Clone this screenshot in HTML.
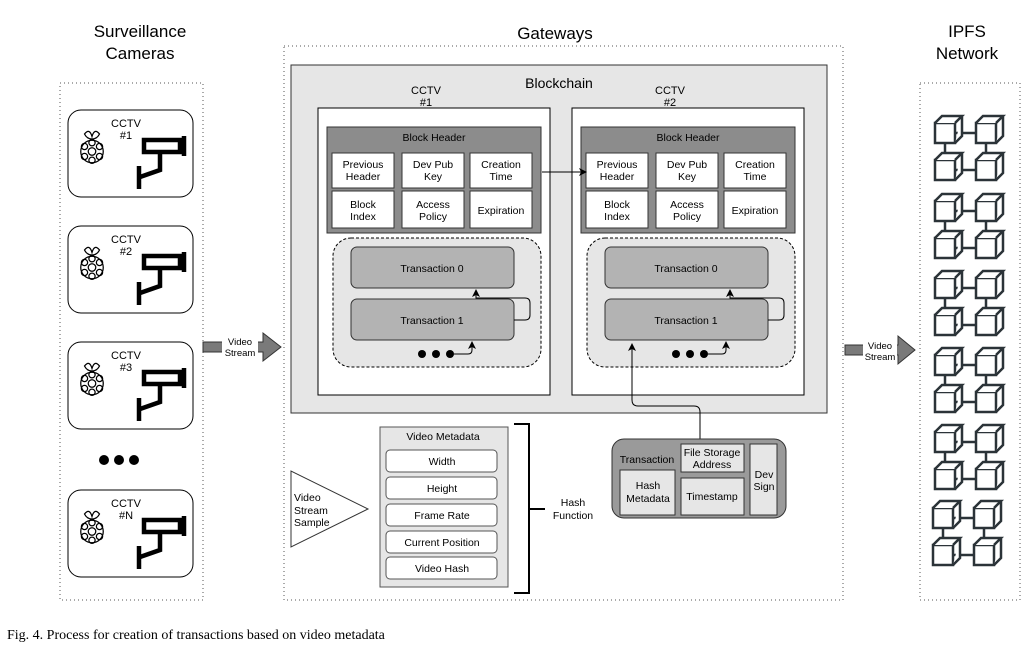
<!DOCTYPE html>
<html><head><meta charset="utf-8"><style>
html,body{margin:0;padding:0;background:#fff;}
svg{display:block;font-family:"Liberation Sans",Arial,sans-serif;}
</style></head><body>
<svg width="1035" height="665" viewBox="0 0 1035 665" xmlns="http://www.w3.org/2000/svg">
<defs>
<marker id="ah" markerWidth="8" markerHeight="8" refX="7" refY="4" orient="auto" markerUnits="userSpaceOnUse"><path d="M0,0 L8,4 L0,8 L2,4 z" fill="#000"/></marker>
<g id="cam">
 <rect x="0" y="0" width="125" height="87" rx="13" fill="#fff" stroke="#000" stroke-width="1"/>
 <text x="58" y="17" font-size="11" text-anchor="middle">CCTV</text>
 <g transform="translate(9,19) scale(1.25)" fill="none" stroke="#000" stroke-width="1">
  <path d="M6,4 Q10,-1 12,6 Q14,-1 18,4 Q16,8 12,8 Q8,8 6,4z"/>
  <circle cx="12" cy="18" r="9"/>
  <circle cx="12" cy="18" r="3"/><circle cx="6" cy="14" r="2.5"/><circle cx="18" cy="14" r="2.5"/><circle cx="6" cy="22" r="2.5"/><circle cx="18" cy="22" r="2.5"/><circle cx="12" cy="25" r="2.5"/><circle cx="12" cy="11" r="2.5"/>
 </g>
 <g fill="none" stroke="#000" stroke-width="4.5">
  <rect x="76" y="30" width="36" height="12"/>
  <path d="M116,26 L116,46"/>
  <path d="M92,42 L92,60 L72,67"/>
  <path d="M71,56 L71,79"/>
 </g>
</g>
<g id="cube" fill="#fff" stroke="#2b3338" stroke-width="2.5" stroke-linejoin="miter">
 <rect x="0" y="7" width="20" height="20"/>
 <path d="M0,7 L7,0 L27,0 L20,7 M27,0 L27,20 L20,27"/>
</g>
<g id="grp">
 <line x1="20" y1="17" x2="41" y2="17" stroke="#2b3338" stroke-width="2.5"/>
 <line x1="20" y1="54" x2="41" y2="54" stroke="#2b3338" stroke-width="2.5"/>
 <line x1="10" y1="27" x2="10" y2="44" stroke="#2b3338" stroke-width="2.5"/>
 <line x1="51" y1="27" x2="51" y2="44" stroke="#2b3338" stroke-width="2.5"/>
 <use href="#cube" x="0" y="0"/><use href="#cube" x="41" y="0"/>
 <use href="#cube" x="0" y="37"/><use href="#cube" x="41" y="37"/>
</g>
<g id="block">
 <rect x="0" y="0" width="232" height="287" fill="#fff" stroke="#000"/>
 <rect x="9" y="19" width="214" height="106" fill="#8c8c8c" stroke="#333"/>
 <text x="116" y="33" font-size="10.5" text-anchor="middle">Block Header</text>
 <g fill="#fff" stroke="#333">
  <rect x="14" y="45" width="62" height="35"/><rect x="84" y="45" width="62" height="35"/><rect x="152" y="45" width="62" height="35"/>
  <rect x="14" y="83" width="62" height="37"/><rect x="84" y="83" width="62" height="37"/><rect x="152" y="83" width="62" height="37"/>
 </g>
 <g font-size="10.5" text-anchor="middle">
  <text x="45" y="60">Previous</text><text x="45" y="72">Header</text>
  <text x="115" y="60">Dev Pub</text><text x="115" y="72">Key</text>
  <text x="183" y="60">Creation</text><text x="183" y="72">Time</text>
  <text x="45" y="100">Block</text><text x="45" y="112">Index</text>
  <text x="115" y="100">Access</text><text x="115" y="112">Policy</text>
  <text x="183" y="106">Expiration</text>
 </g>
 <rect x="15" y="130" width="208" height="129" rx="18" fill="#e6e6e6" stroke="#000" stroke-dasharray="3,2"/>
 <rect x="33" y="139" width="163" height="41" rx="6" fill="#b3b3b3" stroke="#333"/>
 <rect x="33" y="191" width="163" height="41" rx="6" fill="#b3b3b3" stroke="#333"/>
 <text x="114" y="164" font-size="10.5" text-anchor="middle">Transaction 0</text>
 <text x="114" y="216" font-size="10.5" text-anchor="middle">Transaction 1</text>
 <path d="M196,212 L207,212 Q212,212 212,207 L212,195 Q212,190 207,190 L158,190 L158,182" fill="none" stroke="#000" marker-end="url(#ah)"/>
 <circle cx="104" cy="246" r="4"/><circle cx="118" cy="246" r="4"/><circle cx="132" cy="246" r="4"/>
 <path d="M136,246 L150,246 Q154,246 154,242 L154,234" fill="none" stroke="#000" marker-end="url(#ah)"/>
</g>
</defs>

<g font-size="17" text-anchor="middle">
 <text x="140" y="37">Surveillance</text><text x="140" y="59">Cameras</text>
 <text x="555" y="39">Gateways</text>
 <text x="967" y="37">IPFS</text><text x="967" y="59">Network</text>
</g>

<rect x="60" y="83" width="143" height="517" fill="none" stroke="#555" stroke-dasharray="1,3"/>
<rect x="284" y="46" width="559" height="554" fill="none" stroke="#555" stroke-dasharray="1,3"/>
<rect x="920" y="83" width="100" height="517" fill="none" stroke="#555" stroke-dasharray="1,3"/>

<use href="#cam" x="68" y="110"/>
<use href="#cam" x="68" y="226"/>
<use href="#cam" x="68" y="342"/>
<use href="#cam" x="68" y="490"/>
<g font-size="11" text-anchor="middle">
 <text x="126" y="139">#1</text><text x="126" y="255">#2</text><text x="126" y="371">#3</text><text x="126" y="519">#N</text>
</g>
<circle cx="104" cy="460" r="5"/><circle cx="119" cy="460" r="5"/><circle cx="134" cy="460" r="5"/>

<!-- video stream arrows -->
<path d="M203,342 L263,342 L263,333 L281,347 L263,361 L263,352 L203,352z" fill="#7a7a7a" stroke="#333"/>
<rect x="222" y="336" width="36" height="22" fill="#fff"/>
<text x="240" y="345" font-size="9.5" text-anchor="middle">Video</text><text x="240" y="356" font-size="9.5" text-anchor="middle">Stream</text>
<path d="M845,345 L898,345 L898,336 L915,350 L898,364 L898,355 L845,355z" fill="#7a7a7a" stroke="#333"/>
<rect x="863" y="339" width="34" height="22" fill="#fff"/>
<text x="880" y="349" font-size="9.5" text-anchor="middle">Video</text><text x="880" y="360" font-size="9.5" text-anchor="middle">Stream</text>

<!-- blockchain -->
<rect x="291" y="65" width="536" height="348" fill="#e6e6e6" stroke="#333"/>
<text x="559" y="88" font-size="14" text-anchor="middle">Blockchain</text>
<text x="426" y="94" font-size="11" text-anchor="middle">CCTV</text><text x="426" y="106" font-size="11" text-anchor="middle">#1</text>
<text x="670" y="94" font-size="11" text-anchor="middle">CCTV</text><text x="670" y="106" font-size="11" text-anchor="middle">#2</text>
<use href="#block" x="318" y="108"/>
<use href="#block" x="572" y="108"/>
<line x1="542" y1="172" x2="586" y2="172" stroke="#000" marker-end="url(#ah)"/>

<!-- tx connector -->
<path d="M700,439 L700,412 Q700,406 694,406 L638,406 Q632,406 632,400 L632,344" fill="none" stroke="#000" marker-end="url(#ah)"/>

<!-- transaction detail -->
<rect x="612" y="439" width="174" height="79" rx="12" fill="#9a9a9a" stroke="#333"/>
<text x="647" y="463" font-size="10.5" text-anchor="middle">Transaction</text>
<g fill="#e6e6e6" stroke="#333">
 <rect x="620" y="470" width="55" height="45"/>
 <rect x="681" y="444" width="63" height="28"/>
 <rect x="681" y="478" width="63" height="37"/>
 <rect x="750" y="444" width="27" height="71"/>
</g>
<g font-size="10.5" text-anchor="middle">
 <text x="648" y="489">Hash</text><text x="648" y="502">Metadata</text>
 <text x="712" y="456">File Storage</text><text x="712" y="468">Address</text>
 <text x="712" y="500">Timestamp</text>
 <text x="764" y="478">Dev</text><text x="764" y="490">Sign</text>
</g>

<!-- triangle -->
<path d="M291,471 L291,547 L368,509z" fill="#fff" stroke="#333"/>
<g font-size="10.5"><text x="294" y="501">Video</text><text x="294" y="514">Stream</text><text x="294" y="526">Sample</text></g>

<!-- video metadata -->
<rect x="380" y="427" width="128" height="160" fill="#e6e6e6" stroke="#555"/>
<text x="443" y="440" font-size="10.5" text-anchor="middle">Video Metadata</text>
<g fill="#fff" stroke="#555">
 <rect x="386" y="450" width="111" height="22" rx="4"/>
 <rect x="386" y="477" width="111" height="22" rx="4"/>
 <rect x="386" y="504" width="111" height="22" rx="4"/>
 <rect x="386" y="531" width="111" height="22" rx="4"/>
 <rect x="386" y="557" width="111" height="22" rx="4"/>
</g>
<g font-size="10.5" text-anchor="middle">
 <text x="442" y="465">Width</text><text x="442" y="492">Height</text><text x="442" y="519">Frame Rate</text><text x="442" y="546">Current Position</text><text x="442" y="572">Video Hash</text>
</g>
<path d="M514,424 L529,424 L529,593 L514,593 M529,509 L545,509" fill="none" stroke="#000" stroke-width="2"/>
<text x="573" y="506" font-size="10.5" text-anchor="middle">Hash</text><text x="573" y="519" font-size="10.5" text-anchor="middle">Function</text>

<!-- IPFS cubes -->
<use href="#grp" x="935" y="116"/>
<use href="#grp" x="935" y="194"/>
<use href="#grp" x="935" y="271"/>
<use href="#grp" x="935" y="348"/>
<use href="#grp" x="935" y="425"/>
<use href="#grp" x="933" y="501"/>

<text x="7" y="639" font-family="Liberation Serif, serif" font-size="14">Fig. 4.  Process for creation of transactions based on video metadata</text>
</svg>
</body></html>
